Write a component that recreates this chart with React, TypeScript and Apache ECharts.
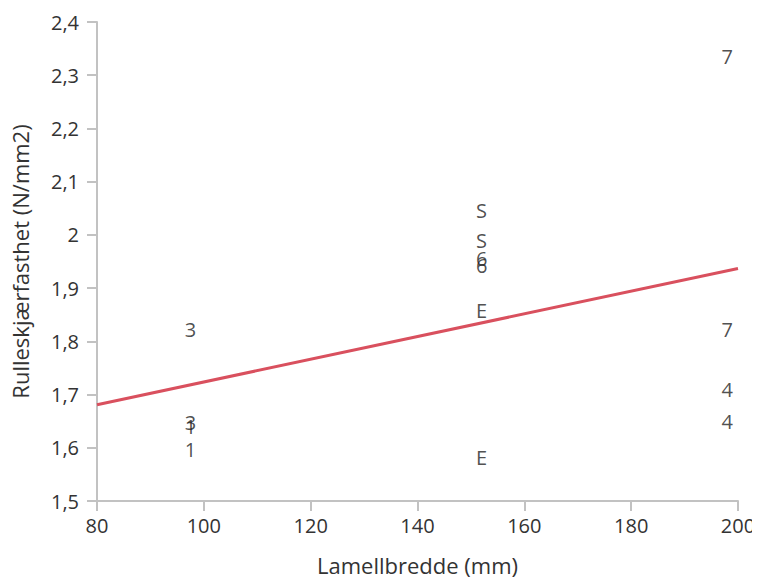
import React, { useEffect, useRef } from "react";
import * as echarts from "echarts";

const xTicks = [80, 100, 120, 140, 160, 180, 200];
const pointWidths = [97.5, 97.5, 97.5, 97.5, 152, 152, 152, 152, 152, 152, 198, 198, 198, 198];
const pointValues = [1.823, 1.64, 1.648, 1.597, 2.045, 1.989, 1.956, 1.943, 1.857, 1.582, 2.335, 1.823, 1.709, 1.649];
const pointLabels = ["3", "1", "3", "1", "S", "S", "6", "6", "E", "E", "7", "7", "4", "4"];
const trendX = [80, 200];
const trendY = [1.681, 1.937];

const FONT = "'Open Sans', 'Noto Sans', sans-serif";

export default function App() {
  const ref = useRef<HTMLDivElement>(null);
  useEffect(() => {
    const chart = echarts.init(ref.current!, null, { renderer: "svg" });
    const axisCommon = {
      axisLine: { show: true, lineStyle: { color: "#c2c2c2", width: 2 } },
      axisTick: { show: true, length: 10, lineStyle: { color: "#c2c2c2", width: 2 } },
      splitLine: { show: false },
      nameLocation: "middle" as const,
      nameTextStyle: { fontFamily: FONT, fontSize: 22, color: "#333" },
    };
    chart.setOption({
      animation: false,
      backgroundColor: "#fff",
      grid: { left: 97, right: 22, top: 22, bottom: 77, containLabel: false },
      xAxis: {
        type: "value",
        min: xTicks[0],
        max: xTicks[xTicks.length - 1],
        interval: 20,
        name: "Lamellbredde (mm)",
        nameGap: 53,
        ...axisCommon,
        axisLabel: { fontFamily: FONT, fontSize: 20, color: "#333", margin: 14 },
      },
      yAxis: {
        type: "value",
        min: 1.5,
        max: 2.4,
        interval: 0.1,
        name: "Rulleskjærfasthet (N/mm2)",
        nameGap: 66,
        ...axisCommon,
        axisLabel: {
          fontFamily: FONT,
          fontSize: 20,
          color: "#333",
          margin: 18,
          formatter: (v: number) => String(Math.round(v * 10) / 10).replace(".", ","),
        },
      },
      series: [
        {
          type: "line",
          data: trendX.map((x, i) => [x, trendY[i]]),
          showSymbol: false,
          symbol: "none",
          lineStyle: { color: "#d9505e", width: 3 },
          z: 2,
        },
        {
          type: "scatter",
          data: pointWidths.map((x, i) => ({ value: [x, pointValues[i]], name: pointLabels[i] })),
          symbolSize: 1,
          itemStyle: { color: "rgba(0,0,0,0)" },
          label: {
            show: true,
            position: "inside",
            formatter: (p: any) => p.name,
            fontFamily: FONT,
            fontSize: 20,
            color: "#222",
          },
          z: 3,
        },
      ],
    });
    return () => chart.dispose();
  }, []);
  return <div ref={ref} style={{ width: 760, height: 581, marginTop: -8, marginLeft: -8 }} />;
}
